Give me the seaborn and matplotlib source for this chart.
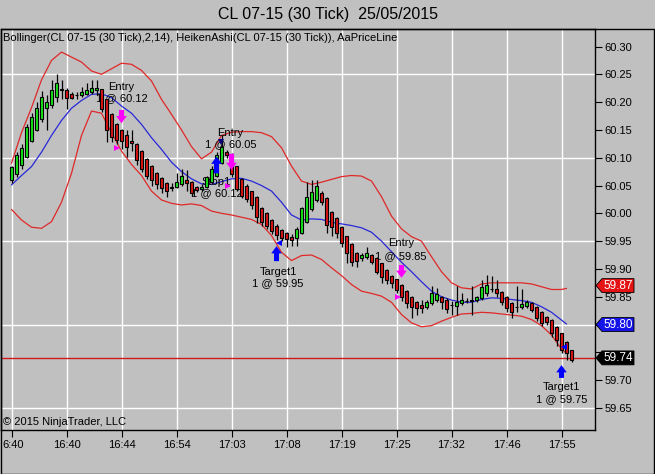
import numpy as np
import pandas as pd
import matplotlib
matplotlib.use("Agg")
import matplotlib.pyplot as plt
import seaborn as sns
from matplotlib.patches import Polygon, Rectangle
from matplotlib.transforms import blended_transform_factory, ScaledTranslation

# ---------------- data ----------------
title = "CL 07-15 (30 Tick)  25/05/2015"
legend_text = "Bollinger(CL 07-15 (30 Tick),2,14), HeikenAshi(CL 07-15 (30 Tick)), AaPriceLine"
copyright_text = "\u00a9 2015 NinjaTrader, LLC"

ha_open = [
    60.060, 60.070, 60.087, 60.102, 60.130, 60.150, 60.170, 60.190, 60.195, 60.210,
    60.223, 60.222, 60.215, 60.212, 60.212, 60.215, 60.218, 60.221, 60.223, 60.205,
    60.178, 60.160, 60.150, 60.140, 60.130, 60.125, 60.112, 60.098, 60.085, 60.072,
    60.063, 60.055, 60.047, 60.047, 60.053, 60.060, 60.057, 60.047, 60.044, 60.047,
    60.056, 60.068, 60.090, 60.110, 60.107, 60.085, 60.062, 60.050, 60.040, 60.030,
    60.010, 60.000, 59.988, 59.978, 59.970, 59.964, 59.957, 59.955, 59.964, 59.985,
    60.008, 60.024, 60.036, 60.028, 60.003, 59.991, 59.976, 59.959, 59.945, 59.928,
    59.920, 59.922, 59.925, 59.920, 59.910, 59.898, 59.888, 59.881, 59.871, 59.861,
    59.850, 59.841, 59.835, 59.832, 59.838, 59.845, 59.850, 59.845, 59.836, 59.834,
    59.838, 59.842, 59.842, 59.844, 59.847, 59.856, 59.864, 59.863, 59.859, 59.849,
    59.839, 59.832, 59.831, 59.834, 59.838, 59.832, 59.823, 59.814, 59.809, 59.796,
    59.784, 59.769, 59.754]
ha_close = [
    60.083, 60.105, 60.118, 60.155, 60.173, 60.190, 60.210, 60.200, 60.222, 60.235,
    60.222, 60.208, 60.208, 60.212, 60.218, 60.222, 60.225, 60.226, 60.188, 60.150,
    60.138, 60.132, 60.130, 60.120, 60.126, 60.096, 60.080, 60.068, 60.060, 60.052,
    60.046, 60.040, 60.046, 60.057, 60.067, 60.054, 60.036, 60.042, 60.048, 60.065,
    60.080, 60.105, 60.120, 60.104, 60.070, 60.044, 60.032, 60.025, 60.015, 59.994,
    59.985, 59.978, 59.968, 59.961, 59.956, 59.953, 59.952, 59.972, 60.010, 60.030,
    60.039, 60.049, 60.021, 59.979, 59.976, 59.965, 59.946, 59.928, 59.912, 59.914,
    59.925, 59.929, 59.913, 59.895, 59.886, 59.880, 59.874, 59.862, 59.850, 59.838,
    59.832, 59.829, 59.829, 59.840, 59.856, 59.855, 59.841, 59.828, 59.835, 59.841,
    59.844, 59.842, 59.844, 59.849, 59.867, 59.871, 59.864, 59.856, 59.841, 59.829,
    59.823, 59.832, 59.837, 59.841, 59.827, 59.811, 59.802, 59.805, 59.784, 59.772,
    59.754, 59.748, 59.737]
ha_high = [
    60.085, 60.110, 60.125, 60.160, 60.180, 60.200, 60.220, 60.212, 60.240, 60.250,
    60.240, 60.225, 60.218, 60.218, 60.228, 60.235, 60.240, 60.240, 60.224, 60.206,
    60.180, 60.162, 60.152, 60.150, 60.150, 60.127, 60.114, 60.100, 60.087, 60.074,
    60.065, 60.057, 60.055, 60.072, 60.080, 60.078, 60.058, 60.050, 60.052, 60.068,
    60.085, 60.110, 60.140, 60.113, 60.108, 60.086, 60.063, 60.052, 60.041, 60.031,
    60.012, 60.002, 59.990, 59.980, 59.972, 59.966, 59.962, 59.975, 60.012, 60.057,
    60.060, 60.060, 60.040, 60.030, 60.005, 59.993, 59.978, 59.960, 59.946, 59.930,
    59.928, 59.939, 59.927, 59.921, 59.911, 59.899, 59.889, 59.882, 59.872, 59.862,
    59.851, 59.842, 59.845, 59.845, 59.869, 59.866, 59.852, 59.847, 59.842, 59.869,
    59.856, 59.848, 59.869, 59.852, 59.880, 59.889, 59.887, 59.880, 59.861, 59.851,
    59.841, 59.869, 59.864, 59.845, 59.840, 59.834, 59.825, 59.816, 59.810, 59.797,
    59.785, 59.770, 59.755]
ha_low = [
    60.055, 60.065, 60.080, 60.100, 60.128, 60.148, 60.165, 60.150, 60.190, 60.200,
    60.205, 60.188, 60.205, 60.205, 60.210, 60.212, 60.215, 60.212, 60.182, 60.128,
    60.128, 60.125, 60.115, 60.102, 60.112, 60.087, 60.075, 60.062, 60.050, 60.044,
    60.036, 60.030, 60.040, 60.045, 60.050, 60.040, 60.032, 60.038, 60.040, 60.045,
    60.052, 60.065, 60.088, 60.100, 60.066, 60.040, 60.028, 60.020, 60.008, 59.982,
    59.978, 59.972, 59.962, 59.952, 59.950, 59.940, 59.942, 59.942, 59.962, 59.982,
    60.005, 60.020, 60.015, 59.965, 59.960, 59.955, 59.940, 59.910, 59.905, 59.903,
    59.915, 59.918, 59.908, 59.890, 59.875, 59.872, 59.866, 59.856, 59.843, 59.830,
    59.812, 59.818, 59.820, 59.828, 59.835, 59.840, 59.828, 59.820, 59.818, 59.818,
    59.835, 59.838, 59.818, 59.840, 59.845, 59.852, 59.858, 59.850, 59.835, 59.822,
    59.812, 59.823, 59.828, 59.830, 59.822, 59.806, 59.797, 59.800, 59.778, 59.762,
    59.748, 59.736, 59.733]

band_bars = list(range(0, 111, 2)) + [111]
band_upper = [
    60.090, 60.145, 60.190, 60.240, 60.275, 60.290, 60.281, 60.272, 60.256, 60.250,
    60.260, 60.270, 60.268, 60.257, 60.238, 60.205, 60.178, 60.150, 60.120, 60.098,
    60.110, 60.140, 60.146, 60.147, 60.147, 60.145, 60.138, 60.118, 60.085, 60.058,
    60.052, 60.056, 60.061, 60.066, 60.068, 60.067, 60.058, 60.030, 59.995, 59.972,
    59.958, 59.950, 59.922, 59.895, 59.875, 59.866, 59.864, 59.873, 59.875, 59.875,
    59.875, 59.875, 59.873, 59.868, 59.863, 59.863, 59.865]
band_mid = [
    60.051, 60.068, 60.084, 60.110, 60.140, 60.167, 60.189, 60.203, 60.214, 60.215,
    60.208, 60.193, 60.180, 60.160, 60.136, 60.115, 60.092, 60.075, 60.062, 60.053,
    60.052, 60.057, 60.062, 60.063, 60.058, 60.050, 60.040, 60.020, 59.997, 59.988,
    59.990, 59.989, 59.984, 59.981, 59.978, 59.974, 59.966, 59.950, 59.931, 59.912,
    59.895, 59.877, 59.860, 59.850, 59.844, 59.840, 59.840, 59.845, 59.848, 59.847,
    59.845, 59.843, 59.840, 59.832, 59.822, 59.808, 59.801]
band_lower = [
    60.007, 59.988, 59.975, 59.973, 59.985, 60.020, 60.072, 60.140, 60.184, 60.180,
    60.145, 60.112, 60.088, 60.068, 60.040, 60.024, 60.018, 60.015, 60.017, 60.014,
    60.004, 60.000, 59.997, 59.993, 59.989, 59.980, 59.960, 59.930, 59.915, 59.924,
    59.925, 59.917, 59.902, 59.888, 59.872, 59.860, 59.856, 59.851, 59.840, 59.818,
    59.803, 59.796, 59.798, 59.806, 59.813, 59.819, 59.820, 59.822, 59.821, 59.819,
    59.817, 59.815, 59.809, 59.798, 59.781, 59.756, 59.748]

tick_bars = [0, 11, 22, 33, 44, 55, 66, 77, 88, 99, 110]
tick_labels = ["6:40", "16:40", "16:44", "16:54", "17:03", "17:08",
               "17:19", "17:25", "17:32", "17:46", "17:55"]
ytick_vals = [59.65, 59.70, 59.75, 59.80, 59.85, 59.90, 59.95,
              60.00, 60.05, 60.10, 60.15, 60.20, 60.25, 60.30]
hidden_ylabels = [59.75, 59.80]   # covered by the price tags in the reference
grid_prices = [60.25, 60.10, 59.95, 59.80, 59.65]
last_price = 59.74
tag_prices = [59.87, 59.80, 59.74]
tag_colors = ["#e41414", "#1414e8", "#000000"]

# trade annotations
arrow_bars = [22, 41, 44, 53, 78, 110]
arrow_tail = [60.186, 60.072, 60.107, 59.914, 59.907, 59.704]
arrow_tip = [60.162, 60.102, 60.078, 59.941, 59.884, 59.727]
arrow_colors = ["#ff00ff", "#0000ff", "#ff00ff", "#0000ff", "#ff00ff", "#0000ff"]
fill_bars = [21.1, 43.3, 77.3, 53.4, 110.5, 41.8]
fill_prices = [60.118, 60.049, 59.849, 59.947, 59.759, 60.128]
fill_markers = [">", ">", ">", "<", "<", "v"]
fill_colors = ["#ff00ff", "#ff00ff", "#ff00ff", "#0000ff", "#0000ff", "#000080"]
label_bars = [22, 43.8, 41.0, 53.3, 77.9, 110.0]
label_top = ["Entry", "Entry", "Stop1", "Target1", "Entry", "Target1"]
label_bottom = ["1 @ 60.12", "1 @ 60.05", "1 @ 60.12", "1 @ 59.95", "1 @ 59.85", "1 @ 59.75"]
label_top_y = [60.228, 60.145, 60.057, 59.895, 59.947, 59.687]
label_bottom_y = [60.207, 60.124, 60.036, 59.874, 59.923, 59.665]

# ---------------- style ----------------
sns.set_style("ticks")
plt.rcParams["font.family"] = ["Liberation Sans", "DejaVu Sans"]
plt.rcParams["axes.linewidth"] = 1.0

BG = "#c0c0c0"
W, H = 655, 474
fig = plt.figure(figsize=(W / 100, H / 100), dpi=100, facecolor=BG)
ax = fig.add_axes([1 / W, 44 / H, 594 / W, 401 / H])
ax.set_facecolor(BG)
ax.set_xlim(-2.1, 116.7)
ax.set_ylim(59.6103, 60.3315)

# grid
for gp in grid_prices:
    ax.axhline(gp, color="white", lw=1.0, zorder=0.5)
for tb in tick_bars:
    ax.axvline(tb, color="white", lw=1.0, zorder=0.5)

# price line
ax.axhline(last_price, color="#d01818", lw=1.0, zorder=1.5)

# bollinger bands via seaborn
bands = pd.DataFrame({"bar": band_bars, "upper": band_upper,
                      "mid": band_mid, "lower": band_lower})
sns.lineplot(data=bands, x="bar", y="upper", ax=ax, color="#e02828", lw=0.9,
             estimator=None, sort=False, zorder=2)
sns.lineplot(data=bands, x="bar", y="lower", ax=ax, color="#e02828", lw=0.9,
             estimator=None, sort=False, zorder=2)
sns.lineplot(data=bands, x="bar", y="mid", ax=ax, color="#2828d8", lw=0.9,
             estimator=None, sort=False, zorder=2)

# trade labels (drawn beneath candles)
for b, t1, t2, y1, y2 in zip(label_bars, label_top, label_bottom, label_top_y, label_bottom_y):
    ax.text(b, y1, t1, ha="center", va="center", fontsize=8, color="black", zorder=2.5)
    ax.text(b, y2, t2, ha="center", va="center", fontsize=8, color="black", zorder=2.5)

# heiken ashi candles
o = np.array(ha_open); c = np.array(ha_close)
hi = np.array(ha_high); lo = np.array(ha_low)
xb = np.arange(len(o))
cols = np.where(c > o, "#18e418", np.where(c < o, "#dc1414", "#000000"))
ax.vlines(xb, lo, hi, color="black", lw=0.9, zorder=3)
ax.bar(xb, c - o, bottom=o, width=0.74, color=cols, edgecolor="black",
       linewidth=0.8, zorder=4)

# arrows
for b, t0, t1, col in zip(arrow_bars, arrow_tail, arrow_tip, arrow_colors):
    ax.annotate("", xy=(b, t1), xytext=(b, t0),
                arrowprops=dict(arrowstyle="simple,head_length=0.55,head_width=0.8,tail_width=0.38",
                                fc=col, ec=col, lw=0, shrinkA=0, shrinkB=0,
                                mutation_scale=9.5), zorder=5)
for b, p, m, col in zip(fill_bars, fill_prices, fill_markers, fill_colors):
    ax.plot([b], [p], marker=m, color=col, markersize=5, markeredgewidth=0, zorder=5)

# axes ticks
ax.yaxis.tick_right()
ax.set_yticks(ytick_vals)
ax.set_yticklabels(["" if v in hidden_ylabels else f"{v:.2f}" for v in ytick_vals])
ax.set_xticks(tick_bars)
ax.set_xticklabels(tick_labels)
ax.tick_params(axis="both", direction="out", length=5, width=0.8, labelsize=8,
               colors="black", pad=2)
first = ax.get_xticklabels()[0]
first.set_horizontalalignment("left")
first.set_transform(first.get_transform() + ScaledTranslation(-9 / 100, 0, fig.dpi_scale_trans))
ax.set_xlabel("")
ax.set_ylabel("")
for s in ax.spines.values():
    s.set_color("black")
    s.set_linewidth(1.0)

# price tags on the right axis
blend = blended_transform_factory(ax.transAxes, ax.transData)
px = 1 / 594
hh = 0.0125
for p, col in zip(tag_prices, tag_colors):
    verts = [(1 + 1 * px, p), (1 + 7 * px, p + hh), (1 + 39 * px, p + hh),
             (1 + 39 * px, p - hh), (1 + 7 * px, p - hh)]
    ax.add_patch(Polygon(verts, closed=True, transform=blend, clip_on=False,
                         fc=col, ec="black", lw=0.6, zorder=6))
    ax.text(1 + 23 * px, p, f"{p:.2f}", transform=blend, ha="center", va="center",
            color="white", fontsize=8.5, clip_on=False, zorder=7)

# texts
fig.text(0.5, 1 - 15 / H, title, ha="center", va="center", fontsize=11.5, color="black")
fig.text(3 / W, 1 - 38 / H, legend_text, ha="left", va="center", fontsize=8, color="black")
fig.text(3 / W, 1 - 422 / H, copyright_text, ha="left", va="center", fontsize=8, color="black")

# outer frame
fig.add_artist(Rectangle((0.5 / W, 0.5 / H), 653.5 / W, (H - 29 - 0.5) / H,
                         transform=fig.transFigure, fill=False, ec="black", lw=1.0))

fig.savefig("out.png", dpi=100, facecolor=BG)
